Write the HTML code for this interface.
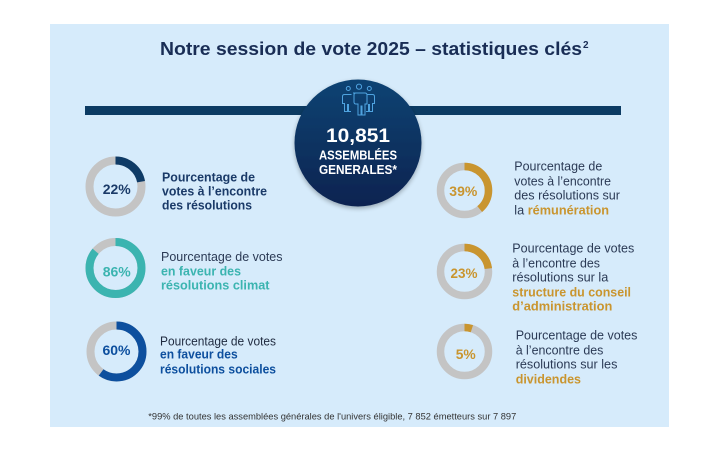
<!DOCTYPE html>
<html>
<head>
<meta charset="utf-8">
<style>
html,body{margin:0;padding:0;background:#fff;}
svg{display:block;}
text{font-family:"Liberation Sans",sans-serif;}
</style>
</head>
<body>
<svg width="722" height="452" viewBox="0 0 722 452" xmlns="http://www.w3.org/2000/svg">
<defs>
<linearGradient id="cg" x1="0" y1="0" x2="0" y2="1">
<stop offset="0" stop-color="#0f4373"/>
<stop offset="1" stop-color="#0a2350"/>
</linearGradient>
<filter id="sh" x="-20%" y="-20%" width="140%" height="140%">
<feGaussianBlur in="SourceAlpha" stdDeviation="2.5"/>
<feOffset dx="0" dy="2" result="b"/>
<feComponentTransfer><feFuncA type="linear" slope="0.3"/></feComponentTransfer>
<feMerge><feMergeNode/><feMergeNode in="SourceGraphic"/></feMerge>
</filter>
</defs>
<rect x="0" y="0" width="722" height="452" fill="#ffffff"/>
<rect x="50" y="24" width="619" height="403" fill="#d6ebfb"/>

<!-- Title -->
<text x="160" y="55" font-size="18" font-weight="bold" fill="#192d55" textLength="422" lengthAdjust="spacingAndGlyphs">Notre session de vote 2025 – statistiques clés</text>
<text x="583" y="48" font-size="10" font-weight="bold" fill="#192d55">2</text>

<!-- bar -->
<rect x="85" y="106" width="536" height="9" fill="#0c3b63"/>

<!-- central circle -->
<circle cx="358" cy="143" r="63.5" fill="url(#cg)" filter="url(#sh)"/>

<!-- icon -->
<g fill="none" stroke="#4fa3e0" stroke-width="1">
<circle cx="359" cy="86.7" r="2.6"/>
<circle cx="348.3" cy="88.5" r="2"/>
<circle cx="369.3" cy="88.5" r="2"/>
<path d="M353 93 h12 q2 0 2 2 v9 h-2 v11 h-3 v-9 h-1 v9 h-3 v-11 h-2 q-2 0 -2 -2 v-7 q0 -2 2 -2z"/>
<path d="M351.5 94.5 h-7 q-2 0 -2 2 v7 h2 v8 h3 v-7 h1 v7 h2.5"/>
<path d="M366.5 94.5 h6 q2 0 2 2 v7 h-2 v8 h-3 v-7 h-1 v7 h-2.5"/>
</g>

<text x="358" y="142" font-size="19" font-weight="bold" fill="#ffffff" text-anchor="middle" textLength="64" lengthAdjust="spacingAndGlyphs">10,851</text>
<text x="358" y="159.5" font-size="12.5" font-weight="bold" fill="#ffffff" text-anchor="middle" textLength="78" lengthAdjust="spacingAndGlyphs">ASSEMBLÉES</text>
<text x="358" y="174" font-size="12.5" font-weight="bold" fill="#ffffff" text-anchor="middle" textLength="78" lengthAdjust="spacingAndGlyphs">GENERALES*</text>

<!-- Left donuts -->
<g fill="none" stroke-width="8">
<circle cx="115.5" cy="186.5" r="26" stroke="#c4c4c4"/>
<circle cx="115.5" cy="186.5" r="26" stroke="#0f3b66" stroke-dasharray="35.94 200" transform="rotate(-90 115.5 186.5)"/>
<circle cx="115.5" cy="268" r="26" stroke="#c4c4c4"/>
<circle cx="115.5" cy="268" r="26" stroke="#3bb4b0" stroke-dasharray="140.5 200" transform="rotate(-90 115.5 268)"/>
<circle cx="116.5" cy="351.5" r="26" stroke="#c4c4c4"/>
<circle cx="116.5" cy="351.5" r="26" stroke="#0d4f9e" stroke-dasharray="98 200" transform="rotate(-90 116.5 351.5)"/>
</g>
<text x="116.7" y="194" font-size="14" font-weight="bold" fill="#1a3a68" text-anchor="middle" textLength="28" lengthAdjust="spacingAndGlyphs">22%</text>
<text x="116.7" y="276.5" font-size="14" font-weight="bold" fill="#3bb4b0" text-anchor="middle" textLength="28" lengthAdjust="spacingAndGlyphs">86%</text>
<text x="116.5" y="355" font-size="14" font-weight="bold" fill="#0d4f9e" text-anchor="middle" textLength="28" lengthAdjust="spacingAndGlyphs">60%</text>

<!-- Right donuts -->
<g fill="none" stroke-width="7.5">
<circle cx="464.5" cy="190.5" r="24" stroke="#c4c4c4"/>
<circle cx="464.5" cy="190.5" r="24" stroke="#c9952f" stroke-dasharray="58.8 200" transform="rotate(-90 464.5 190.5)"/>
<circle cx="464.5" cy="271.5" r="24" stroke="#c4c4c4"/>
<circle cx="464.5" cy="271.5" r="24" stroke="#c9952f" stroke-dasharray="34.7 200" transform="rotate(-90 464.5 271.5)"/>
<circle cx="464.5" cy="351.5" r="24" stroke="#c4c4c4"/>
<circle cx="464.5" cy="351.5" r="24" stroke="#c9952f" stroke-dasharray="7.54 200" transform="rotate(-90 464.5 351.5)"/>
</g>
<text x="463.3" y="196" font-size="14" font-weight="bold" fill="#c9952f" text-anchor="middle" textLength="28" lengthAdjust="spacingAndGlyphs">39%</text>
<text x="464" y="278" font-size="14" font-weight="bold" fill="#c9952f" text-anchor="middle" textLength="27" lengthAdjust="spacingAndGlyphs">23%</text>
<text x="465.7" y="359" font-size="14" font-weight="bold" fill="#c9952f" text-anchor="middle" textLength="20" lengthAdjust="spacingAndGlyphs">5%</text>

<!-- Left texts -->
<g font-size="13">
<text x="162" y="181.5" font-weight="bold" fill="#1a3a68" textLength="93" lengthAdjust="spacingAndGlyphs">Pourcentage de</text>
<text x="162" y="195.5" font-weight="bold" fill="#1a3a68" textLength="105" lengthAdjust="spacingAndGlyphs">votes à l’encontre</text>
<text x="162" y="209.5" font-weight="bold" fill="#1a3a68" textLength="90" lengthAdjust="spacingAndGlyphs">des résolutions</text>

<text x="161" y="261" fill="#2b3a55" textLength="121.5" lengthAdjust="spacingAndGlyphs">Pourcentage de votes</text>
<text x="161" y="275.5" font-weight="bold" fill="#3bb4b0" textLength="80" lengthAdjust="spacingAndGlyphs">en faveur des</text>
<text x="161" y="289.5" font-weight="bold" fill="#3bb4b0" textLength="108.5" lengthAdjust="spacingAndGlyphs">résolutions climat</text>

<text x="160" y="345.5" fill="#1f2a3f" textLength="116" lengthAdjust="spacingAndGlyphs">Pourcentage de votes</text>
<text x="160" y="358.5" font-weight="bold" fill="#0d4f9e" textLength="77.7" lengthAdjust="spacingAndGlyphs">en faveur des</text>
<text x="160" y="373.5" font-weight="bold" fill="#0d4f9e" textLength="116" lengthAdjust="spacingAndGlyphs">résolutions sociales</text>
</g>

<!-- Right texts -->
<g font-size="13" fill="#2b3a55">
<text x="514.3" y="170.5" textLength="88" lengthAdjust="spacingAndGlyphs">Pourcentage de</text>
<text x="514.3" y="185.5" textLength="96.7" lengthAdjust="spacingAndGlyphs">votes à l’encontre</text>
<text x="514.3" y="199.5" textLength="105.7" lengthAdjust="spacingAndGlyphs">des résolutions sur</text>
<text x="514.3" y="214.5" textLength="94.7" lengthAdjust="spacingAndGlyphs">la <tspan font-weight="bold" fill="#c9952f">rémunération</tspan></text>

<text x="512.3" y="252.5" textLength="122" lengthAdjust="spacingAndGlyphs">Pourcentage de votes</text>
<text x="512.3" y="267.5" textLength="87.7" lengthAdjust="spacingAndGlyphs">à l’encontre des</text>
<text x="512.3" y="281.5" textLength="96" lengthAdjust="spacingAndGlyphs">résolutions sur la</text>
<text x="512.3" y="296.5" font-weight="bold" fill="#c9952f" textLength="118.7" lengthAdjust="spacingAndGlyphs">structure du conseil</text>
<text x="512.3" y="310.5" font-weight="bold" fill="#c9952f" textLength="100" lengthAdjust="spacingAndGlyphs">d’administration</text>

<text x="515.7" y="339.5" textLength="121.7" lengthAdjust="spacingAndGlyphs">Pourcentage de votes</text>
<text x="515.7" y="354.5" textLength="87.7" lengthAdjust="spacingAndGlyphs">à l’encontre des</text>
<text x="515.7" y="368.5" textLength="101.7" lengthAdjust="spacingAndGlyphs">résolutions sur les</text>
<text x="515.7" y="383.5" font-weight="bold" fill="#c9952f" textLength="65.3" lengthAdjust="spacingAndGlyphs">dividendes</text>
</g>

<!-- Footnote -->
<text x="148.3" y="419.5" font-size="9.5" fill="#333333" textLength="368" lengthAdjust="spacingAndGlyphs">*99% de toutes les assemblées générales de l'univers éligible, 7 852 émetteurs sur 7 897</text>
</svg>
</body>
</html>
